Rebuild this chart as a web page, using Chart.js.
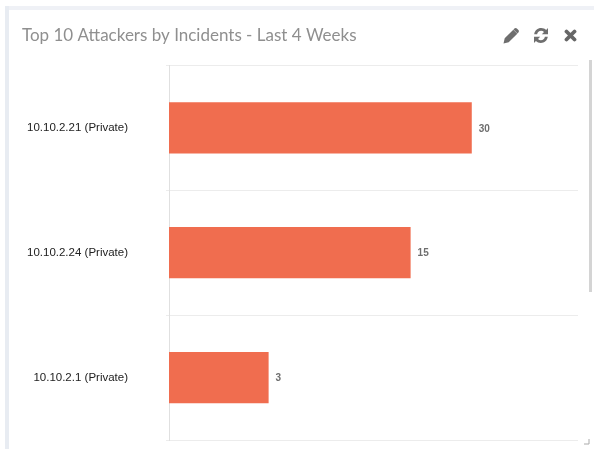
<!DOCTYPE html>
<html><head><meta charset="utf-8">
<script src="https://cdn.jsdelivr.net/npm/chart.js@4"></script>
<style>
html,body{margin:0;padding:0;background:#fff;overflow:hidden}
#wrap{position:relative;width:594px;height:449px;overflow:hidden}
#top{position:absolute;left:5px;top:6px;width:589px;height:4px;background:#eff1f6}
#left{position:absolute;left:5px;top:6px;width:4px;height:443px;background:#e8ecf2}
#scroll{position:absolute;left:589px;top:60px;width:3px;height:232px;background:#d4d4d4}
canvas{position:absolute;left:0;top:0}
svg{position:absolute}
</style></head><body>
<div id="wrap">
<div id="top"></div><div id="left"></div><div id="scroll"></div>
<canvas id="c" width="594" height="449"></canvas>
<svg style="left:503px;top:27px" width="17" height="17" viewBox="0 0 17 17"><path d="M0.500 16.500l1.200-5.200 8.600-8.600 4 4-8.600 8.600z M11.400 1.600c.8-.8 1.800-.8 2.500 0l1.500 1.500c.7.7.7 1.700 0 2.500l-.9.9-4-4z" fill="#6e6e6e"/></svg>
<svg style="left:533px;top:27px" width="16" height="17" viewBox="0 0 16 17"><path d="M1.200 7.200C1.800 3.400 4.600 1 8.200 1c2 0 3.600.7 4.900 1.900L15 1v6.200H8.800l2.200-2.200c-.8-.8-1.800-1.200-2.900-1.200-2 0-3.600 1.300-4 3.400z M14.800 9.800c-.6 3.800-3.400 6.200-7 6.200-2 0-3.600-.7-4.900-1.900L1 16V9.800h6.200L5 12c.8.8 1.800 1.200 2.900 1.200 2 0 3.600-1.300 4-3.400z" fill="#6e6e6e"/></svg>
<svg style="left:564px;top:29px" width="13" height="13" viewBox="0 0 13 13"><path d="M2.500 2.500l8 8M10.500 2.500l-8 8" stroke="#666" stroke-width="3.800" stroke-linecap="round"/></svg>
<svg style="left:584px;top:439px" width="6" height="6" viewBox="0 0 6 6"><path d="M5 0v5H0" fill="none" stroke="#aaa" stroke-width="1"/></svg>
</div>
<script>
const chartTitle = 'Top 10 Attackers by Incidents - Last 4 Weeks';
const categories = ['10.10.2.21 (Private)', '10.10.2.24 (Private)', '10.10.2.1 (Private)'];
const incidents = [30, 15, 3];
const barColor = '#f06d4f';

const valueLabels = {
  id: 'valueLabels',
  afterDatasetsDraw(chart) {
    const ctx = chart.ctx;
    const meta = chart.getDatasetMeta(0);
    ctx.save();
    ctx.font = 'bold 10px "Liberation Sans"';
    ctx.fillStyle = '#6e6e6e';
    ctx.textAlign = 'left';
    ctx.textBaseline = 'middle';
    meta.data.forEach((bar, i) => ctx.fillText(String(incidents[i]), bar.x + 7, bar.y + 1));
    ctx.restore();
  }
};

new Chart(document.getElementById('c'), {
  type: 'bar',
  data: { labels: categories, datasets: [{ data: incidents, backgroundColor: barColor, borderWidth: 0, barPercentage: 0.41, categoryPercentage: 1 }] },
  plugins: [valueLabels],
  options: {
    indexAxis: 'y',
    responsive: false,
    animation: false,
    layout: { padding: { left: 22, right: 16, top: 0, bottom: 9 } },
    plugins: {
      legend: { display: false },
      tooltip: { enabled: false },
      title: {
        display: true, text: chartTitle, align: 'start', color: '#8f8f8f',
        font: { family: 'Lato', size: 17, weight: 'normal' },
        padding: { top: 25, bottom: 20 }
      }
    },
    scales: {
      x: { type: 'logarithmic', min: 0.97, max: 100, display: false },
      y: {
        afterFit(s) { s.width = 147; s.paddingTop = 0; s.paddingBottom = 0; },
        grid: { color: '#ececec', tickLength: 3, offset: true },
        border: { color: '#e0e0e0' },
        ticks: { color: '#222', font: { family: 'Liberation Sans', size: 11.5 }, padding: 38 }
      }
    }
  }
});
</script>
</body></html>
